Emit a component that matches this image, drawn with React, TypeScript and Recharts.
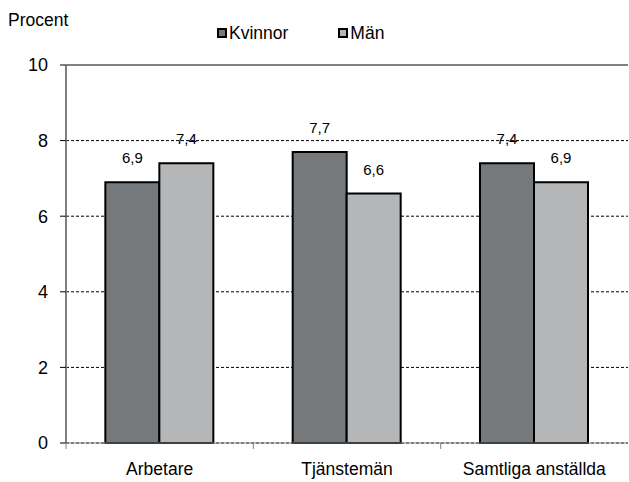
import React from 'react';
import { BarChart, Bar, XAxis, YAxis, CartesianGrid, LabelList, ReferenceLine, Legend } from 'recharts';

const categories = ['Arbetare', 'Tjänstemän', 'Samtliga anställda'];
const kvinnor = [6.9, 7.7, 7.4];
const man = [7.4, 6.6, 6.9];
const yTicks = [0, 2, 4, 6, 8, 10];

const data = categories.map((name, i) => ({ name, Kvinnor: kvinnor[i], Män: man[i] }));

const FONT = '"Liberation Sans", Arial, sans-serif';
const DARK = '#76797b';
const LIGHT = '#b5b6b8';

const fmt = (v: any) => String(v).replace('.', ',');

function CategoryTick(props: any) {
  const { x, y, payload } = props;
  const half = payload && payload.offset ? payload.offset : 0;
  return (
    <g>
      <line x1={x - half} x2={x - half} y1={y - 8} y2={y - 2} stroke="#808080" strokeWidth={1} />
      <text x={x} y={y + 24} textAnchor="middle" fontSize={17.5} fill="#000" fontFamily={FONT}>
        {payload.value}
      </text>
    </g>
  );
}

function LegendBox() {
  const items = [
    { label: 'Kvinnor', color: DARK },
    { label: 'Män', color: LIGHT },
  ];
  return (
    <div style={{ display: 'flex', fontFamily: FONT, fontSize: 17.5, color: '#000', lineHeight: '20px' }}>
      {items.map((it) => (
        <div key={it.label} style={{ display: 'flex', alignItems: 'center', marginRight: 50 }}>
          <span
            style={{
              display: 'inline-block',
              width: 6,
              height: 6,
              border: '2px solid #000',
              background: it.color,
              marginRight: 2,
            }}
          />
          <span>{it.label}</span>
        </div>
      ))}
    </div>
  );
}

export default function App() {
  return (
    <div style={{ position: 'absolute', left: 0, top: 0, width: 629, height: 482, background: '#fff' }}>
      <div style={{ position: 'absolute', left: 8, top: 10, fontFamily: FONT, fontSize: 17.5, color: '#000', lineHeight: '20px' }}>
        Procent
      </div>
      <BarChart
        width={629}
        height={482}
        data={data}
        margin={{ top: 65, right: 1, bottom: 0, left: 0 }}
        barCategoryGap="21%"
        barGap={0}
      >
        <CartesianGrid horizontal vertical={false} stroke="#000" strokeDasharray="3 2" strokeWidth={1} />
        <XAxis
          dataKey="name"
          height={39}
          axisLine={{ stroke: '#808080', strokeWidth: 1 }}
          tickLine={false}
          tick={<CategoryTick />}
          interval={0}
        />
        <YAxis
          width={66}
          domain={[0, 10]}
          ticks={yTicks}
          axisLine={{ stroke: '#808080', strokeWidth: 2 }}
          tickLine={{ stroke: '#000' }}
          tickSize={6}
          tickMargin={12}
          tick={{ fontSize: 18, fill: '#000', fontFamily: FONT }}
          interval={0}
        />
        <YAxis
          yAxisId="right"
          orientation="right"
          width={0}
          domain={[0, 10]}
          tick={false}
          tickLine={false}
          axisLine={{ stroke: '#c0c0c0', strokeWidth: 1 }}
        />
        <ReferenceLine y={10} stroke="#808080" strokeWidth={2} />
        <Legend
          layout="horizontal"
          verticalAlign="middle"
          align="center"
          content={<LegendBox />}
          wrapperStyle={{ position: 'absolute', left: 217, top: 23, width: 300 }}
        />
        <Bar dataKey="Kvinnor" fill={DARK} stroke="#000" strokeWidth={2} isAnimationActive={false}>
          <LabelList dataKey="Kvinnor" position="top" offset={19} formatter={fmt} fontSize={15} fill="#000" fontFamily={FONT} />
        </Bar>
        <Bar dataKey="Män" fill={LIGHT} stroke="#000" strokeWidth={2} isAnimationActive={false}>
          <LabelList dataKey="Män" position="top" offset={19} formatter={fmt} fontSize={15} fill="#000" fontFamily={FONT} />
        </Bar>
      </BarChart>
    </div>
  );
}
